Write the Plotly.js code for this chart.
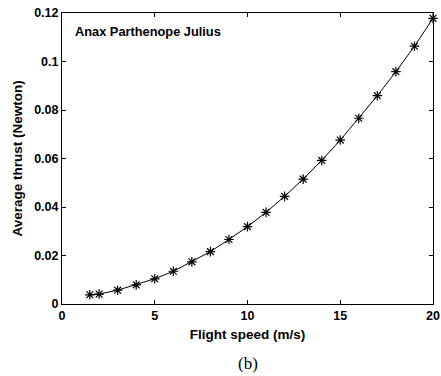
<!DOCTYPE html>
<html>
<head>
<meta charset="utf-8">
<script src="https://cdn.plot.ly/plotly-3.0.1.min.js"></script>
<style>html,body{margin:0;padding:0;background:#fff;}#chart{width:441px;height:376px;}</style>
</head>
<body>
<div id="chart"></div>
<script>
const flightSpeed = [1.5, 2, 3, 4, 5, 6, 7, 8, 9, 10, 11, 12, 13, 14, 15, 16, 17, 18, 19, 20];
const averageThrust = [0.0038, 0.0041, 0.0057, 0.0079, 0.0104, 0.0135, 0.0174, 0.0216, 0.0266, 0.0319,
  0.0378, 0.0444, 0.0515, 0.0592, 0.0676, 0.0766, 0.0859, 0.0958, 0.1063, 0.1178];
const xTicks = [0, 5, 10, 15, 20];
const xTickText = ['0', '5', '10', '15', '20'];
const yTicks = [0, 0.02, 0.04, 0.06, 0.08, 0.1, 0.12];
const yTickText = ['0', '0.02', '0.04', '0.06', '0.08', '0.1', '0.12'];

const tickFont = {family: 'Liberation Sans, Arial, sans-serif', size: 12.5, color: '#000', weight: 'bold'};
const titleFont = {family: 'Liberation Sans, Arial, sans-serif', size: 13.5, color: '#000', weight: 'bold'};
const noteFont = {family: 'Liberation Sans, Arial, sans-serif', size: 12.8, color: '#000', weight: 'bold'};
const bold = s => '<b>' + s + '</b>';

const trace = {
  x: flightSpeed, y: averageThrust, type: 'scatter', mode: 'lines+markers',
  line: {color: '#000', width: 1},
  marker: {symbol: 'asterisk-open', size: 8, color: '#000', line: {color: '#000', width: 1.2}},
  showlegend: false, cliponaxis: false
};

const axisCommon = {
  showgrid: false, zeroline: false, showline: true, linecolor: '#000', linewidth: 1,
  mirror: 'ticks', ticks: 'inside', ticklen: 4, tickcolor: '#000', tickwidth: 1,
  tickfont: tickFont
};

const layout = {
  width: 441, height: 376,
  margin: {l: 62, r: 8, t: 13, b: 72},
  paper_bgcolor: '#fff', plot_bgcolor: '#fff',
  xaxis: Object.assign({}, axisCommon, {
    range: [0, 20], tickvals: xTicks, ticktext: xTickText.map(bold),
    title: {text: bold('Flight speed (m/s)'), font: titleFont, standoff: 7}
  }),
  yaxis: Object.assign({}, axisCommon, {
    range: [0, 0.12], tickvals: yTicks, ticktext: yTickText.map(bold),
    title: {text: bold('Average thrust (Newton)'), font: titleFont, standoff: 8}
  }),
  annotations: [
    {xref: 'paper', yref: 'paper', x: 0.03, y: 0.935, xanchor: 'left', yanchor: 'middle',
     text: bold('Anax Parthenope Julius'), showarrow: false, font: noteFont},
    {xref: 'paper', yref: 'paper', x: 0.5, y: -0.205, xanchor: 'center', yanchor: 'middle',
     text: '(b)', showarrow: false,
     font: {family: 'Liberation Serif, Times New Roman, serif', size: 17, color: '#000'}}
  ]
};

Plotly.newPlot('chart', [trace], layout, {displayModeBar: false, staticPlot: true});
</script>
</body>
</html>
